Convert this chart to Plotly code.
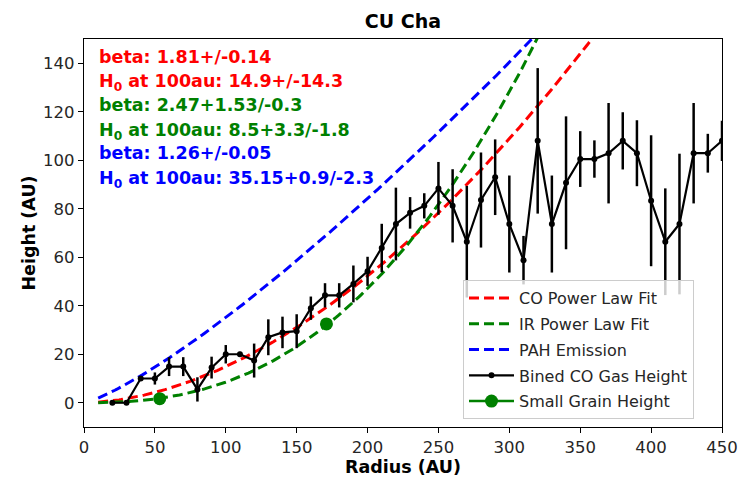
import numpy as np
import plotly.graph_objects as go

# ---- data ----
radius_co = [20, 30, 40, 50, 60, 70, 80, 90, 100, 110, 120, 130, 140, 150, 160,
             170, 180, 190, 200, 210, 220, 230, 240, 250, 260, 270, 280, 290,
             300, 310, 320, 330, 340, 350, 360, 370, 380, 390, 400, 410, 420,
             430, 440, 450]
height_co = [0, 0, 10, 10, 14.9, 14.9, 5.5, 14.5, 20, 20, 17.4, 27, 29, 29.5, 39,
             44.3, 44.3, 49, 54.2, 63.8, 73.7, 78.3, 81.2, 88.4, 81.2, 66.4, 83.6,
             93, 73.7, 58.8, 108, 73.7, 90.7, 100.5, 100.5, 102.9, 108, 102.9,
             83.3, 66.4, 73.7, 102.9, 102.9, 108]
height_co_err = [0, 0, 0, 2.5, 3.9, 3.9, 5, 4.5, 3.8, 1, 7, 7.4, 6.5, 7, 4.8,
                 5, 5, 7.6, 6, 10, 15, 6.5, 5.2, 10.9, 15.1, 23, 19.6, 15.6,
                 20, 10, 30, 20, 27.4, 11.5, 7.7, 20.7, 11.8, 13.6, 27, 22, 29,
                 20.7, 8, 8.3]

grain_radius = [53.4, 171]
grain_height = [1.7, 32.5]

# power-law fits as labelled in the chart: H = H0 * (r/100)^beta
fit_names = ["CO Power Law Fit", "IR Power Law Fit", "PAH Emission"]
fit_beta = [1.81, 2.47, 1.26]
fit_h0 = [14.9, 8.5, 35.15]
fit_colors = ["#ff0000", "#008000", "#0000ff"]
fit_labels = [
    ["beta: 1.81+/-0.14", "H<sub>0</sub> at 100au: 14.9+/-14.3"],
    ["beta: 2.47+1.53/-0.3", "H<sub>0</sub> at 100au: 8.5+3.3/-1.8"],
    ["beta: 1.26+/-0.05", "H<sub>0</sub> at 100au: 35.15+0.9/-2.3"],
]
fit_r_min, fit_r_max = 10, 450

x_ticks = [0, 50, 100, 150, 200, 250, 300, 350, 400, 450]
y_ticks = [0, 20, 40, 60, 80, 100, 120, 140]

FONT = "DejaVu Sans"
PLOT_W, PLOT_H = 722 - 84, 427 - 39

fig = go.Figure()

r_model = np.linspace(fit_r_min, fit_r_max, 300)
for name, b, h0, c in zip(fit_names, fit_beta, fit_h0, fit_colors):
    fig.add_trace(go.Scatter(
        x=r_model, y=h0 * (r_model / 100.0) ** b, mode="lines", name=name,
        legendgroup=name,
        line=dict(color=c, width=3, dash="10px,5px"),
    ))

fig.add_trace(go.Scatter(
    x=radius_co, y=height_co, mode="lines+markers", name="Bined CO Gas Height",
    legendgroup="co",
    line=dict(color="black", width=2.2),
    marker=dict(color="black", size=6),
    error_y=dict(type="data", array=height_co_err, visible=True,
                 color="black", thickness=2.5, width=0),
))

# separate points (gap between them so no joining line in the plot,
# while the legend shows the line+marker symbol)
gx, gy = [], []
for i, (a, b) in enumerate(zip(grain_radius, grain_height)):
    if i:
        gx.append(None)
        gy.append(None)
    gx.append(a)
    gy.append(b)
fig.add_trace(go.Scatter(
    x=gx, y=gy, mode="markers+lines", name="Small Grain Height",
    legendgroup="grain", connectgaps=False,
    line=dict(color="#008000", width=2.5),
    marker=dict(color="#008000", size=13),
))

# fit annotations
y0 = 56.7
for i, (labels, c) in enumerate(zip(fit_labels, fit_colors)):
    for j, t in enumerate(labels):
        ypix = y0 + (2 * i + j) * 24.1 + (2 if j else 0)
        fig.add_annotation(
            x=13 / PLOT_W, xref="paper", xanchor="left",
            y=(427 - ypix) / PLOT_H, yref="paper", yanchor="middle",
            text="<b>%s</b>" % t, showarrow=False,
            font=dict(family=FONT, size=17.5, color=c),
        )

axis_common = dict(
    showline=True, linecolor="black", linewidth=1.2, mirror=True,
    ticks="outside", ticklen=5, tickwidth=1.2, tickcolor="black",
    showgrid=False, zeroline=False, automargin=False,
    tickfont=dict(family=FONT, size=16.5, color="#262626"),
)

fig.update_layout(
    width=740, height=479,
    margin=dict(l=84, r=18, t=39, b=52),
    paper_bgcolor="white", plot_bgcolor="white",
    title=dict(text="<b>CU Cha</b>", x=(84 + 722) / 2 / 740, xanchor="center",
               y=1 - 21 / 479, yanchor="middle",
               font=dict(family=FONT, size=19, color="black")),
    xaxis=dict(range=[0, 450], tickvals=x_ticks,
               title=dict(text="<b>Radius (AU)</b>", standoff=4,
                          font=dict(family=FONT, size=17.5, color="black")),
               **axis_common),
    yaxis=dict(range=[-10, 150], tickvals=y_ticks,
               title=dict(text="<b>Height (AU)</b>", standoff=2,
                          font=dict(family=FONT, size=17.5, color="black")),
               **axis_common),
    legend=dict(
        x=(463 - 84) / PLOT_W, xanchor="left",
        y=(427 - 280) / PLOT_H, yanchor="top",
        bgcolor="rgba(255,255,255,0.8)", bordercolor="#cccccc", borderwidth=1,
        font=dict(family=FONT, size=16, color="#262626"),
        tracegroupgap=2, itemwidth=45,
    ),
    showlegend=True,
)

fig.write_html("out.html")
